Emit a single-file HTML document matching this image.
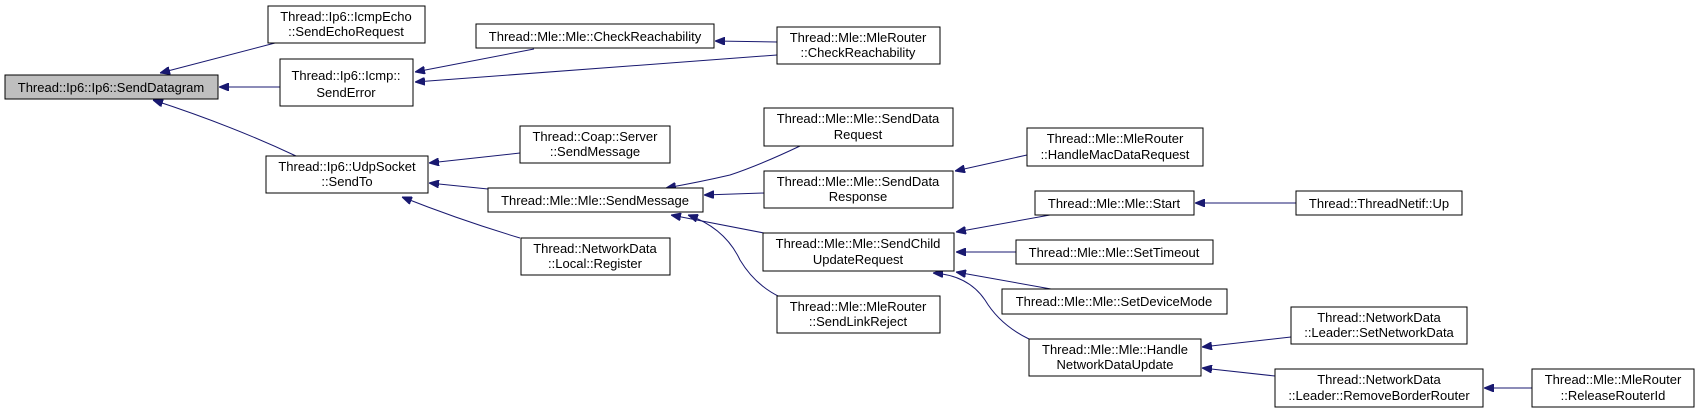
<!DOCTYPE html>
<html><head><meta charset="utf-8"><style>
html,body{margin:0;padding:0;background:#fff;}
svg{display:block;}
text{font-family:"Liberation Sans",Arial,sans-serif;font-size:13px;fill:#000;}
rect{stroke:#000;stroke-width:1;}
path.e{fill:none;stroke:#191970;stroke-width:1;}
</style></head><body>
<svg width="1695" height="413" viewBox="0 0 1695 413" xmlns="http://www.w3.org/2000/svg">
<defs>
<marker id="a" markerWidth="10" markerHeight="8" refX="10" refY="4" orient="auto" markerUnits="userSpaceOnUse">
<path d="M0,0 L10,4 L0,8 Z" fill="#191970" stroke="#191970"/>
</marker>
</defs>
<g marker-end="url(#a)">
<path class="e" d="M275,43 L160,73"/>
<path class="e" d="M280,87 L219,87"/>
<path class="e" d="M296,156 Q230,125 153,100"/>
<path class="e" d="M534,49 L415,72"/>
<path class="e" d="M777,55 L415,82"/>
<path class="e" d="M777,42 L715,41"/>
<path class="e" d="M520,153 L429,163"/>
<path class="e" d="M488,189 L429,183"/>
<path class="e" d="M520,238 Q460,220 402,197"/>
<path class="e" d="M800,146 Q760,165 730,175 Q700,182 666,188"/>
<path class="e" d="M764,193 L704,195"/>
<path class="e" d="M764,233 L671,215"/>
<path class="e" d="M780,297 Q755,285 740,260 Q725,228 688,215"/>
<path class="e" d="M1050,215 L956,232"/>
<path class="e" d="M1016,252 L956,252"/>
<path class="e" d="M1051,289 L956,272"/>
<path class="e" d="M1029,339 Q1000,325 985,300 Q968,275 933,273"/>
<path class="e" d="M1296,203 L1195,203"/>
<path class="e" d="M1027,155 L955,171"/>
<path class="e" d="M1291,337 L1202,347"/>
<path class="e" d="M1275,376 L1202,368"/>
<path class="e" d="M1532,388 L1484,388"/>
</g>
<rect x="5" y="75" width="213" height="24" fill="#bfbfbf"/>
<text x="111" y="92" text-anchor="middle">Thread::Ip6::Ip6::SendDatagram</text>

<rect x="268" y="6" width="157" height="37" fill="#fff"/>
<text x="346" y="21" text-anchor="middle">Thread::Ip6::IcmpEcho</text>
<text x="346" y="36" text-anchor="middle">::SendEchoRequest</text>

<rect x="280" y="59" width="133" height="47" fill="#fff"/>
<text x="346" y="80" text-anchor="middle">Thread::Ip6::Icmp::</text>
<text x="346" y="97" text-anchor="middle">SendError</text>

<rect x="476" y="24" width="238" height="24" fill="#fff"/>
<text x="595" y="41" text-anchor="middle">Thread::Mle::Mle::CheckReachability</text>

<rect x="266" y="156" width="162" height="37" fill="#fff"/>
<text x="347" y="171" text-anchor="middle">Thread::Ip6::UdpSocket</text>
<text x="347" y="186" text-anchor="middle">::SendTo</text>

<rect x="520" y="126" width="150" height="37" fill="#fff"/>
<text x="595" y="141" text-anchor="middle">Thread::Coap::Server</text>
<text x="595" y="156" text-anchor="middle">::SendMessage</text>

<rect x="488" y="188" width="215" height="24" fill="#fff"/>
<text x="595" y="205" text-anchor="middle">Thread::Mle::Mle::SendMessage</text>

<rect x="521" y="238" width="149" height="37" fill="#fff"/>
<text x="595" y="253" text-anchor="middle">Thread::NetworkData</text>
<text x="595" y="268" text-anchor="middle">::Local::Register</text>

<rect x="777" y="27" width="163" height="37" fill="#fff"/>
<text x="858" y="42" text-anchor="middle">Thread::Mle::MleRouter</text>
<text x="858" y="57" text-anchor="middle">::CheckReachability</text>

<rect x="764" y="108" width="189" height="38" fill="#fff"/>
<text x="858" y="123" text-anchor="middle">Thread::Mle::Mle::SendData</text>
<text x="858" y="139" text-anchor="middle">Request</text>

<rect x="1027" y="128" width="176" height="38" fill="#fff"/>
<text x="1115" y="143" text-anchor="middle">Thread::Mle::MleRouter</text>
<text x="1115" y="159" text-anchor="middle">::HandleMacDataRequest</text>

<rect x="764" y="171" width="189" height="37" fill="#fff"/>
<text x="858" y="186" text-anchor="middle">Thread::Mle::Mle::SendData</text>
<text x="858" y="201" text-anchor="middle">Response</text>

<rect x="1035" y="191" width="159" height="24" fill="#fff"/>
<text x="1114" y="208" text-anchor="middle">Thread::Mle::Mle::Start</text>

<rect x="1296" y="191" width="166" height="24" fill="#fff"/>
<text x="1379" y="208" text-anchor="middle">Thread::ThreadNetif::Up</text>

<rect x="763" y="233" width="191" height="38" fill="#fff"/>
<text x="858" y="248" text-anchor="middle">Thread::Mle::Mle::SendChild</text>
<text x="858" y="264" text-anchor="middle">UpdateRequest</text>

<rect x="1016" y="240" width="197" height="24" fill="#fff"/>
<text x="1114" y="257" text-anchor="middle">Thread::Mle::Mle::SetTimeout</text>

<rect x="1002" y="289" width="225" height="25" fill="#fff"/>
<text x="1114" y="306" text-anchor="middle">Thread::Mle::Mle::SetDeviceMode</text>

<rect x="777" y="296" width="163" height="37" fill="#fff"/>
<text x="858" y="311" text-anchor="middle">Thread::Mle::MleRouter</text>
<text x="858" y="326" text-anchor="middle">::SendLinkReject</text>

<rect x="1291" y="307" width="176" height="37" fill="#fff"/>
<text x="1379" y="322" text-anchor="middle">Thread::NetworkData</text>
<text x="1379" y="337" text-anchor="middle">::Leader::SetNetworkData</text>

<rect x="1029" y="339" width="172" height="37" fill="#fff"/>
<text x="1115" y="354" text-anchor="middle">Thread::Mle::Mle::Handle</text>
<text x="1115" y="369" text-anchor="middle">NetworkDataUpdate</text>

<rect x="1275" y="369" width="208" height="38" fill="#fff"/>
<text x="1379" y="384" text-anchor="middle">Thread::NetworkData</text>
<text x="1379" y="400" text-anchor="middle">::Leader::RemoveBorderRouter</text>

<rect x="1532" y="369" width="162" height="38" fill="#fff"/>
<text x="1613" y="384" text-anchor="middle">Thread::Mle::MleRouter</text>
<text x="1613" y="400" text-anchor="middle">::ReleaseRouterId</text>
</svg>
</body></html>
